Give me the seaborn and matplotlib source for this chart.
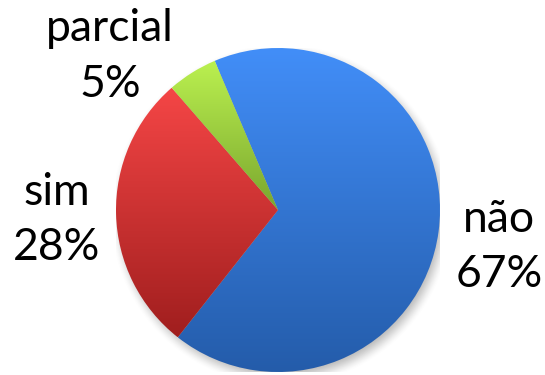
import numpy as np
import matplotlib
matplotlib.use("Agg")
import matplotlib.pyplot as plt
import seaborn as sns
from matplotlib.colors import LinearSegmentedColormap

# Survey answers and their shares (percent)
categories = ["não", "sim", "parcial"]
percentages = [67, 28, 5]

# Vertical gradient per slice: light at the top, darker at the bottom
top_colors = ["#428EF8", "#F54646", "#BBF150"]
bottom_colors = ["#245CAA", "#A01E1E", "#7AA62E"]

sns.set_theme(style="white")
plt.rcParams["font.family"] = ["Lato", "DejaVu Sans"]

fig = plt.figure(figsize=(5.45, 3.75), dpi=100)
fig.patch.set_facecolor("white")
ax = fig.add_axes([116 / 545, 3 / 375, 324 / 545, 324 / 375])

labels = [f"{c}\n{p}%" for c, p in zip(categories, percentages)]
wedges, texts = ax.pie(
    percentages,
    labels=labels,
    startangle=113,
    counterclock=False,
    radius=1.0,
    wedgeprops=dict(linewidth=0, edgecolor="none"),
    textprops=dict(fontsize=32, color="black", linespacing=1.45),
)

# Soft drop shadow under the pie
n = 400
g = np.linspace(-1.2, 1.2, n)
X, Y = np.meshgrid(g, g)
d = np.hypot(X - 0.02, Y + 0.03)
soft = 0.06
alpha = np.clip((1.0 + soft - d) / (2 * soft), 0, 1)
alpha = alpha * alpha * (3 - 2 * alpha) * 0.45
shadow = np.zeros((n, n, 4))
shadow[..., :3] = 0.35
shadow[..., 3] = alpha
ax.imshow(shadow, extent=[-1.2, 1.2, -1.2, 1.2], origin="lower", zorder=0.5,
          interpolation="bilinear")

# Gradient fill clipped to every wedge
for w, c_top, c_bot in zip(wedges, top_colors, bottom_colors):
    bb = w.get_path().get_extents()
    cmap = LinearSegmentedColormap.from_list("grad", [c_bot, c_top])
    grad = np.linspace(0, 1, 256).reshape(-1, 1)
    im = ax.imshow(grad, cmap=cmap, aspect="auto", origin="lower",
                   extent=[bb.x0, bb.x1, bb.y0, bb.y1], zorder=1,
                   interpolation="bilinear")
    im.set_clip_path(w)
    w.set_facecolor("none")

# Label placement outside the pie (radius units)
label_xy = [(1.364, -0.228), (-1.364, -0.062), (-1.037, 0.95)]
for t, (x, y) in zip(texts, label_xy):
    t.set_position((x, y))
    t.set_horizontalalignment("center")
    t.set_verticalalignment("center")
    t.set_multialignment("center")
    t.set_clip_on(False)

ax.set_xlim(-1, 1)
ax.set_ylim(-1, 1)
ax.set_aspect("equal")
ax.axis("off")

fig.savefig("out.png", dpi=100, facecolor="white")
